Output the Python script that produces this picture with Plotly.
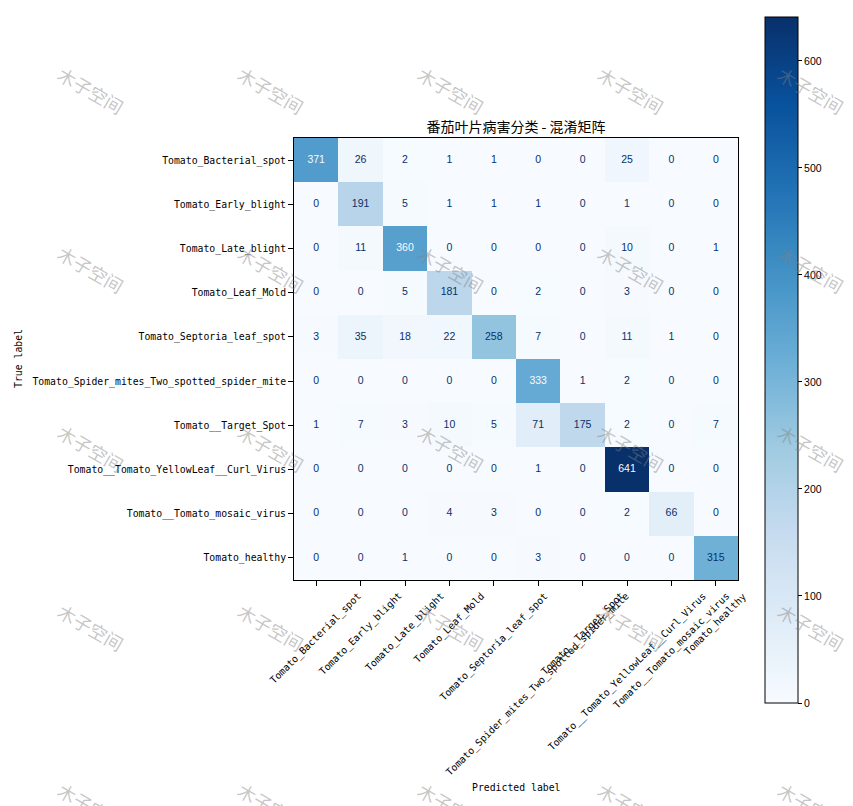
import plotly.graph_objects as go

# ---- data ----
class_labels = [
    "Tomato_Bacterial_spot",
    "Tomato_Early_blight",
    "Tomato_Late_blight",
    "Tomato_Leaf_Mold",
    "Tomato_Septoria_leaf_spot",
    "Tomato_Spider_mites_Two_spotted_spider_mite",
    "Tomato__Target_Spot",
    "Tomato__Tomato_YellowLeaf__Curl_Virus",
    "Tomato__Tomato_mosaic_virus",
    "Tomato_healthy",
]
confusion = [
    [371, 26, 2, 1, 1, 0, 0, 25, 0, 0],
    [0, 191, 5, 1, 1, 1, 0, 1, 0, 0],
    [0, 11, 360, 0, 0, 0, 0, 10, 0, 1],
    [0, 0, 5, 181, 0, 2, 0, 3, 0, 0],
    [3, 35, 18, 22, 258, 7, 0, 11, 1, 0],
    [0, 0, 0, 0, 0, 333, 1, 2, 0, 0],
    [1, 7, 3, 10, 5, 71, 175, 2, 0, 7],
    [0, 0, 0, 0, 0, 1, 0, 641, 0, 0],
    [0, 0, 0, 4, 3, 0, 0, 2, 66, 0],
    [0, 0, 1, 0, 0, 3, 0, 0, 0, 315],
]
colorbar_ticks = [0, 100, 200, 300, 400, 500, 600]
title_text = "番茄叶片病害分类 - 混淆矩阵"
watermark_text = "木子空间"

# ---- layout geometry (pixels in the page; the page body has an 8px margin) ----
OFF = 8
W, H = 853 - OFF, 806 - OFF
L, R, T, B = 294 - OFF, 738 - OFF, 138 - OFF, 580 - OFF
pw, ph = R - L, B - T

def px_x(p):
    return (p - OFF - L) / pw

def px_y(p):
    return (B - (p - OFF)) / ph

blues = [
    [0.0, "#f7fbff"], [0.125, "#deebf7"], [0.25, "#c6dbef"], [0.375, "#9ecae1"],
    [0.5, "#6baed6"], [0.625, "#4292c6"], [0.75, "#2171b5"], [0.875, "#08519c"],
    [1.0, "#08306b"],
]

zmax = max(max(r) for r in confusion)
zmin = min(min(r) for r in confusion)
thresh = (zmax + zmin) / 2.0

mono = "DejaVu Sans Mono"
numfont = "Liberation Sans"

fig = go.Figure()
fig.add_trace(go.Heatmap(
    z=confusion, x=class_labels, y=class_labels,
    colorscale=blues, zmin=0, zmax=zmax,
    hoverinfo="skip",
    colorbar=dict(
        x=px_x(765), xanchor="left", xpad=0,
        y=px_y(360), yanchor="middle", ypad=0,
        len=686, lenmode="pixels", thickness=33, thicknessmode="pixels",
        outlinewidth=1, outlinecolor="black",
        tickvals=colorbar_ticks, ticks="outside", ticklen=4, tickcolor="black",
        tickfont=dict(family=numfont, size=10.5, color="black"),
    ),
))

tx, ty, tt, tc = [], [], [], []
for i, row in enumerate(confusion):
    for j, v in enumerate(row):
        tx.append(class_labels[j])
        ty.append(class_labels[i])
        tt.append(str(v))
        tc.append("#f7fbff" if v > thresh else "#08306b")
fig.add_trace(go.Scatter(
    x=tx, y=ty, text=tt, mode="text",
    textfont=dict(family=numfont, size=10.5, color=tc),
    hoverinfo="skip", showlegend=False,
))

annotations = []
# rotated x tick labels centred on ticks (matplotlib style)
for lab in class_labels:
    annotations.append(dict(
        x=lab, xref="x", y=0, yref="paper", yshift=-9,
        text=lab, textangle=-45, showarrow=False,
        xanchor="center", yanchor="top", borderpad=0,
        font=dict(family=mono, size=9.8, color="black"),
    ))
annotations.append(dict(
    x=0.5, xref="paper", y=px_y(787), yref="paper",
    text="Predicted label", showarrow=False, xanchor="center", yanchor="middle",
    font=dict(family=mono, size=9.8, color="black"),
))
annotations.append(dict(
    x=px_x(18), xref="paper", y=0.5, yref="paper",
    text="True label", textangle=-90, showarrow=False,
    xanchor="center", yanchor="middle",
    font=dict(family=mono, size=9.8, color="black"),
))
# watermark grid
for gy in range(5):
    for gx in range(5):
        annotations.append(dict(
            x=px_x(91 + 180 * gx), xref="paper", y=px_y(90 + 179 * gy), yref="paper",
            text=watermark_text, textangle=30, showarrow=False,
            xanchor="center", yanchor="middle",
            font=dict(family="Noto Sans CJK SC", size=18, color="rgba(128,128,128,0.45)"),
        ))

fig.update_layout(
    width=W, height=H,
    margin=dict(l=L, r=W - R, t=T, b=H - B, autoexpand=False),
    paper_bgcolor="white", plot_bgcolor="white",
    title=dict(text=title_text, x=(L + pw / 2) / W, xanchor="center",
               y=1 - (127 - OFF) / H, yanchor="middle", yref="container",
               font=dict(family="Noto Sans CJK SC", size=14, color="black")),
    xaxis=dict(type="category", showticklabels=False, ticks="outside", ticklen=5,
               tickcolor="black", showline=True, linecolor="black", linewidth=1,
               mirror=True, showgrid=False, zeroline=False,
               range=[-0.5, len(class_labels) - 0.5]),
    yaxis=dict(type="category", autorange=False,
               range=[len(class_labels) - 0.5, -0.5],
               ticks="outside", ticklen=5, tickcolor="black",
               tickfont=dict(family=mono, size=9.8, color="black"),
               showline=True, linecolor="black", linewidth=1, mirror=True,
               showgrid=False, zeroline=False),
    annotations=annotations,
    showlegend=False,
)

fig.write_html("out.html")
